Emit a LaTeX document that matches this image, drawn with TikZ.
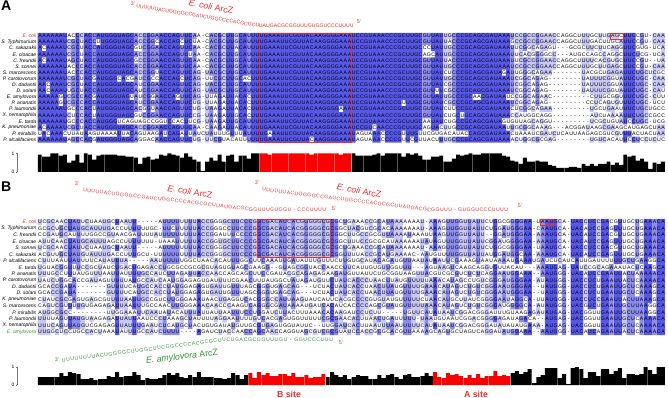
\documentclass[tikz,border=0pt]{standalone}
\usepackage{fontspec}
\setmainfont{Liberation Sans}
\usetikzlibrary{decorations.text}
\definecolor{pidhi}{RGB}{88,88,232}
\definecolor{pidmid}{RGB}{140,140,238}
\definecolor{pidlo}{RGB}{200,200,246}
\definecolor{arcred}{RGB}{228,48,48}
\definecolor{arcgreen}{RGB}{50,150,50}
\definecolor{barred}{RGB}{250,0,0}
\definecolor{axgray}{RGB}{120,120,120}

\tikzset{
  seqrow/.style={anchor=west, inner sep=0pt, font=\fontsize{4.4}{4.4}\selectfont},
  spname/.style={anchor=east, inner sep=0pt, font=\fontsize{4.3}{4.3}\selectfont\itshape},
  arcend/.style={inner sep=0pt, font=\fontsize{4.6}{4.6}\selectfont, text=arcred},
  arclabel/.style={inner sep=0pt, font=\fontsize{7.5}{7.5}\selectfont, text=arcred},
  sitelabel/.style={inner sep=0pt, font=\fontsize{7.5}{7.5}\selectfont\bfseries, text=arcred},
  panel/.style={inner sep=0pt, anchor=north west, font=\fontsize{12}{12}\selectfont\bfseries},
  axlabel/.style={inner sep=0pt, anchor=east, font=\fontsize{4.2}{4.2}\selectfont},
  axis/.style={axgray, line width=0.3pt},
  hitbox/.style={draw=arcred, line width=0.5pt},
}
\newcommand\arcfont{\fontsize{4.4}{4.4}\selectfont\color{arcred}}
\newcommand\amyfont{\fontsize{4.4}{4.4}\selectfont\color{arcgreen}}
\newdimen\alncellw
\newcommand\alnbox[1]{\hbox to \alncellw{\hss\MakeUppercase{#1}\hss}}
\newcommand\alnpath[2]{\fill[#1] #2;}
\newcommand\alnline[3]{\node[seqrow] at (#1,#2) {#3};}

\ExplSyntaxOn
\seq_new:N \g_aln_rows_seq
\seq_new:N \l_aln_cons_seq
\seq_new:N \l_aln_shade_seq
\tl_new:N \l_aln_row_tl
\tl_new:N \l_aln_ch_tl
\tl_new:N \l_aln_cons_tl
\tl_new:N \l_aln_shade_tl
\tl_new:N \l_aln_bar_tl
\tl_new:N \l_aln_run_tl
\tl_new:N \l_aln_line_tl
\tl_new:N \l_aln_text_tl
\tl_new:N \l_aln_path_black_tl
\tl_new:N \l_aln_path_barred_tl
\tl_new:N \l_aln_path_pidhi_tl
\tl_new:N \l_aln_path_pidmid_tl
\tl_new:N \l_aln_path_pidlo_tl
\int_new:N \l_aln_rows_int
\int_new:N \l_aln_cols_int
\int_new:N \l_aln_r_int
\int_new:N \l_aln_max_int
\int_new:N \l_aln_runstart_int
\int_new:N \l_aln_A_int
\int_new:N \l_aln_C_int
\int_new:N \l_aln_G_int
\int_new:N \l_aln_U_int
\int_new:N \l_aln_loa_int
\int_new:N \l_aln_hia_int
\int_new:N \l_aln_lob_int
\int_new:N \l_aln_hib_int
\fp_new:N \l_aln_frac_fp
\fp_new:N \l_aln_yc_fp
\fp_new:N \l_aln_tophi_fp
\fp_new:N \l_aln_topmid_fp
\fp_new:N \l_aln_toplo_fp
\cs_new_protected:Npn \aln_try:n #1
  {
    \int_compare:nNnT { \int_use:c { l_aln_#1_int } } > { \l_aln_max_int }
      {
        \tl_set:Nn \l_aln_cons_tl {#1}
        \int_set_eq:Nc \l_aln_max_int { l_aln_#1_int }
      }
  }
\cs_new_protected:Npn \aln_close_run:nnnn #1#2#3#4
  {
    \str_if_eq:VnF \l_aln_run_tl { none }
      {
        \tl_put_right:cx { l_aln_path_ \l_aln_run_tl _tl }
          {
            ( \fp_eval:n { #1 + (\int_use:N \l_aln_runstart_int - 1) * #2 } ,
              \fp_eval:n { \l_aln_yc_fp - #3 / 2 } ) ~ rectangle ~
            ( \fp_eval:n { #1 + (#4) * #2 } , \fp_eval:n { \l_aln_yc_fp + #3 / 2 } ) ~
          }
      }
  }
\cs_new_protected:Npn \aln_fill:n #1
  {
    \tl_if_empty:cF { l_aln_path_#1_tl }
      { \use:e { \exp_not:N \alnpath {#1} { \exp_not:v { l_aln_path_#1_tl } } } }
  }
\NewDocumentCommand \alnclear { } { \seq_gclear:N \g_aln_rows_seq }
\NewDocumentCommand \alnrow { m }
  {
    \tl_set:Nn \l_aln_row_tl {#1}
    \tl_remove_all:Nn \l_aln_row_tl { ~ }
    \seq_gput_right:NV \g_aln_rows_seq \l_aln_row_tl
  }
\NewDocumentCommand \alnred { m m m m }
  {
    \int_set:Nn \l_aln_loa_int {#1}
    \int_set:Nn \l_aln_hia_int {#2}
    \int_set:Nn \l_aln_lob_int {#3}
    \int_set:Nn \l_aln_hib_int {#4}
  }
\NewDocumentCommand \alnlevels { m m m }
  {
    \fp_set:Nn \l_aln_tophi_fp {#1}
    \fp_set:Nn \l_aln_topmid_fp {#2}
    \fp_set:Nn \l_aln_toplo_fp {#3}
  }
\NewDocumentCommand \alndraw { m m m m m m }
  {
    \int_set:Nn \l_aln_rows_int { \seq_count:N \g_aln_rows_seq }
    \tl_set:Nx \l_aln_row_tl { \seq_item:Nn \g_aln_rows_seq { 1 } }
    \int_set:Nn \l_aln_cols_int { \tl_count:N \l_aln_row_tl }
    \seq_clear:N \l_aln_cons_seq
    \seq_clear:N \l_aln_shade_seq
    \tl_clear:N \l_aln_path_black_tl
    \tl_clear:N \l_aln_path_barred_tl
    \tl_clear:N \l_aln_path_pidhi_tl
    \tl_clear:N \l_aln_path_pidmid_tl
    \tl_clear:N \l_aln_path_pidlo_tl
    \tl_clear:N \l_aln_text_tl
    \dim_set:Nn \alncellw { \fp_eval:n { #3 * 0.853583 } pt }
    \int_step_inline:nn { \l_aln_cols_int }
      {
        \int_zero:N \l_aln_A_int
        \int_zero:N \l_aln_C_int
        \int_zero:N \l_aln_G_int
        \int_zero:N \l_aln_U_int
        \seq_map_inline:Nn \g_aln_rows_seq
          {
            \tl_set:Nx \l_aln_ch_tl { \tl_item:nn {####1} {##1} }
            \str_if_eq:VnT \l_aln_ch_tl { A } { \int_incr:N \l_aln_A_int }
            \str_if_eq:VnT \l_aln_ch_tl { C } { \int_incr:N \l_aln_C_int }
            \str_if_eq:VnT \l_aln_ch_tl { G } { \int_incr:N \l_aln_G_int }
            \str_if_eq:VnT \l_aln_ch_tl { U } { \int_incr:N \l_aln_U_int }
          }
        \tl_set:Nn \l_aln_cons_tl { A }
        \int_set_eq:NN \l_aln_max_int \l_aln_A_int
        \aln_try:n { C }
        \aln_try:n { G }
        \aln_try:n { U }
        \fp_set:Nn \l_aln_frac_fp
          { \int_use:N \l_aln_max_int / \int_use:N \l_aln_rows_int }
        \fp_compare:nNnTF { \l_aln_frac_fp } > { \l_aln_tophi_fp }
          { \tl_set:Nn \l_aln_shade_tl { pidhi } }
          {
            \fp_compare:nNnTF { \l_aln_frac_fp } > { \l_aln_topmid_fp }
              { \tl_set:Nn \l_aln_shade_tl { pidmid } }
              {
                \fp_compare:nNnTF { \l_aln_frac_fp } > { \l_aln_toplo_fp }
                  { \tl_set:Nn \l_aln_shade_tl { pidlo } }
                  { \tl_set:Nn \l_aln_shade_tl { none } }
              }
          }
        \seq_put_right:NV \l_aln_cons_seq \l_aln_cons_tl
        \seq_put_right:NV \l_aln_shade_seq \l_aln_shade_tl
        \tl_set:Nn \l_aln_bar_tl { black }
        \bool_lazy_or:nnT
          { \int_compare_p:n { \l_aln_loa_int <= ##1 <= \l_aln_hia_int } }
          { \int_compare_p:n { \l_aln_lob_int <= ##1 <= \l_aln_hib_int } }
          { \tl_set:Nn \l_aln_bar_tl { barred } }
        \int_compare:nNnT { \l_aln_max_int } > { 0 }
          {
            \tl_put_right:cx { l_aln_path_ \l_aln_bar_tl _tl }
              {
                ( \fp_eval:n { #1 + (##1 - 1) * #3 + 0.15 } , #5 ) ~ rectangle ~
                ( \fp_eval:n { #1 + ##1 * #3 - 0.15 } ,
                  \fp_eval:n { #5 - \l_aln_frac_fp * #6 } ) ~
              }
          }
      }
    \int_zero:N \l_aln_r_int
    \seq_map_inline:Nn \g_aln_rows_seq
      {
        \fp_set:Nn \l_aln_yc_fp { #2 + \int_use:N \l_aln_r_int * #4 }
        \tl_clear:N \l_aln_line_tl
        \tl_set:Nn \l_aln_run_tl { none }
        \int_set:Nn \l_aln_runstart_int { 1 }
        \int_step_inline:nn { \l_aln_cols_int }
          {
            \tl_set:Nx \l_aln_ch_tl { \tl_item:nn {##1} {####1} }
            \tl_set:Nx \l_aln_cons_tl { \seq_item:Nn \l_aln_cons_seq {####1} }
            \tl_set:Nx \l_aln_shade_tl { \seq_item:Nn \l_aln_shade_seq {####1} }
            \str_if_eq:VVF \l_aln_ch_tl \l_aln_cons_tl
              { \tl_set:Nn \l_aln_shade_tl { none } }
            \str_if_eq:VVF \l_aln_shade_tl \l_aln_run_tl
              {
                \aln_close_run:nnnn {#1} {#3} {#4} { ####1 - 1 }
                \tl_set_eq:NN \l_aln_run_tl \l_aln_shade_tl
                \int_set:Nn \l_aln_runstart_int {####1}
              }
            \tl_put_right:Nx \l_aln_line_tl { \exp_not:N \alnbox { \l_aln_ch_tl } }
          }
        \aln_close_run:nnnn {#1} {#3} {#4} { \int_use:N \l_aln_cols_int }
        \tl_put_right:Nx \l_aln_text_tl
          {
            \exp_not:N \alnline { #1 } { \fp_eval:n { \l_aln_yc_fp } }
              { \exp_not:V \l_aln_line_tl }
          }
        \int_incr:N \l_aln_r_int
      }
    \aln_fill:n { black }
    \aln_fill:n { barred }
    \aln_fill:n { pidhi }
    \aln_fill:n { pidmid }
    \aln_fill:n { pidlo }
    \tl_use:N \l_aln_text_tl
  }
\ExplSyntaxOff

\begin{document}
\begin{tikzpicture}[x=0.03cm, y=-0.03cm]
\useasboundingbox (0,0) rectangle (668,398);
\fill[white] (0,0) rectangle (668,398);

\node[panel] (panA) at (1,1) {A};
\alnclear
\alnrow{AAAAAAUaCC CACCAUGGGU AGCACCGGAA CCAGUUCAA- CACGCUUGCA UUU UGAAAUUCGU UACAAGGGGA AA UCCGUAAACC CGCUUGCGUU AUUGCCCGCA GCGAUAAAUC CGCCGGAA CCAGGCUUUG CUUGAGCUUC CGU-CAA}
\alnrow{AAAAAAUCGC UACCuUGGGU AGCACCGGCA CCAGcUCUA- CACGCUUGCA UUU UGAAAUUCGU UACAAGGGGA AA UCCGUAAACC CGCUUGCGUU AUUACCCGCA GCGAUAAAGC CGCCGGAA CCAGGCUUUG ACUUGCAUUC CGU-CAA}
\alnrow{AcAAAAUCGC UACCAUGGGU AGCgUCGGAA CCAGUUCAA- CACGCUUaCA UUU UGAAAUUCGU UACAAGGGGA AA UCCGUAAACC CGCUUGCCCU AUUGCCCGCA GCGAUAAAUU CGGCAGAG U---GCGCUU CUUCAGGUUC GUG-UCA}
\alnrow{AAAAAAUCGC UACCAUGGGU AGCACCGGAA CCAGUUUAA- CACGCUUGCA UUU UGAAAUUCGU UACAAGGGGA AA UCCGUAAACC CGCUUGCAGC AUUGCCCGCA GCGAUAAAUU CACGGGGC C---AUGCCA GCCAGGCUUC UCG-UCA}
\alnrow{AcAAAAUaGC UACCAUGGGU AGCgCCGGAA CCAGUUCAA- CACGCUUGCA UUU UGAAAUUCGU UACAAGGGGA AA UCCGUAAACC CGCUUGCGUU AUUACCCGCA GCGAUAAAUU CGCCGGAA CCAGGCUUUU CACGUGCUUC CGU--UA}
\alnrow{AAAAAAUaCC CACCAUGGGU AGCACCGGAA CCAGUUCAA- CACGCUUGCA UUU UGAAAUUCGU UACAAGGGGA AA UCCGUAAACC CGCUUGCGUU AUUGCCCGCA GCGAUAAAUC CGCCGGAA CCAGGCUUUG CUUGAGCUUC CGU-CAA}
\alnrow{AAAAAAUaCC CACCAUGGGU AGCACCGGUA CCAGUUCAG- UACGCUUGCA UUU UGAAAUUCGU UACAAGGGGA AA UCCGUAAACC CGCUUGCGUU AUCUCCCGCA GCGAUAGAUU GGGCAGAA -------UAC GCUGAGAUUC UGCUCGC}
\alnrow{AAAAAAUCGC UACgAUGGGc AcGAUCGcCA CCAGcUCAG- uuCGCUUGCa cUU UGAAAUUCGU UACAAGGGGA AA UCCGUAAACC CGCUUGCGUU AUUGCCCGCA GCGAUAAAUC GGCAGAG- -------UAU UUCGGUAUUC UGC-CAA}
\alnrow{AAcAAAUCGC UACCAUGGGU AGCAUCGGAA CCAGUUCAG- UACGCUUGCA UUU UGAAAUUCGU UACAAGGGGA AA UCCGUAAACC CGCUUGCGUU AUCGCCCGCA GCGAUAAAUC GGCAGAG- -------UAU UUCGGUAUUC UGC-CAA}
\alnrow{AAcAAAUUGC UACCAUGGGU AGCAUCGGAA CCAGUUCAG- UACGCUUGCA UUU UGAAAUUCGU UACAAGGGGA AA UCCGUAAACC CGCUUGCGUU UUCGCCCGCA GCGAUAAAUC GGCAGAG- -------UAU UUCGGUAUUC UGC-CAU}
\alnrow{AAAAAgUCGC CACgAUGGGU AGuAUCGgAA CCAgUUCAG- UUAGAUUaCA CUU UGAAAUUCGU UACAAGGGGA AA UCCGUAAACC CGCUUGCGUU AUUGCCCGCa ACGAUAAUCC GGCAGAAC ---------C UUGCGGUUUC UGC-CUU}
\alnrow{AAAAAgUCGC CACCAUGGGU AGCAUCGGAA CCAGUUCUG- UUAGAUUACA CUU UGAAAUUCGU UACAAGGGGA AA UCCGUAAACC CGUUUGCGUU AUCGCCCGCA GCGAUAAAUC GGCAGAG- --------CC UCAGUGUUUC UGC-UCU}
\alnrow{AAAAAAUgCC CACuAUGGGU AGCACgGUAA CCAGUUCUG- UAAGAUUACA CUU UGAAAUUCGU UACAAGGGGa AA UCCGUAAACC CGCUUGCGUU AUCUUCCGCA GCGAUAAACU CGGCAGAA ---------U GCUGAAUUUC UGCUGCC}
\alnrow{AAAAAAUCuC CACuAUGGGU AGCgUCGGAA CCAGUUCCG- UAAGAUUgCA CUU UGAAAUUCGU UACAAGGGGA AA UCCGUAAACC CGCUUGCGUU AUCUGCUGCA GCGAUAAACC AUGGCAGG ---------A UCUAAAAUUC UGCCGCC}
\alnrow{AAAAAAUgCC CACCAUGGGu CAGUAGCCGG UCCACUUCG- UAAGAUUGCA UUU UGAAAUUCGU UACAAGGGGA AA UCCGUAAACC CGCUUGCAAU AUCUGCCGCA GCGAUAGUGU UAGCAGGU ---------U CGCUGUAUCC UGC-UCG}
\alnrow{AcAAAAUCGC UACCAUGGGU AGCACCGGAA CCAGUUCAA- CAAGAUUACA UUU UGAAAUUCGU UACAAGGGGA AA UCCGUcAACC CGCUUGCAGU ACUUGCCGCA GCGAUAAUUG CGGCAAAG ---ACGGAUA AGCGAAGCAU GAGCUAA}
\alnrow{UACAAACUUA UAAGUAAAAU UACAGUAAGA UCAGAUUAUC UAUUUGUUUA UUU UGaAAUUCGU UACAAGGGGA AA UAGUAAACCC CGUUUGUUCG UGACAUACCA GCGAUAAACU AAAUCGAU CUCAUUAAGA GCGUCGUUUA CUACUAA}
\alnrow{AAAAAAUaGC CACgAUGGGU AGCAgGACAA CCAGUUCUG- UUCGUACAUU UUU UGAAAUUCGU UAcAAGGGGA AA UAGUAAACCC CGUUCGUUAC UUUGCCCGCA GCGAUAAAAC UGGCGCGA G--------U GUCACAUUCC UCCUCUC}
\alnred{54}{75}{0}{-1}
\alnlevels{0.79}{0.59}{0.32}
\alndraw{37.7}{36}{4.182}{6.1}{172}{18.5}
\foreach \nm [count=\i from 0] in {\textcolor{arcred}{E. coli}, S. Typhimurium, C. sakazakii, E. cloacae, C. freundii, S. sonnei, S. marcescens, P. carotovorum, D. dadantii, D. solani, E. amylovora, P. ananatis, P. laumondii, X. nematophila, E. tarda, K. pneumoniae, P. mirabilis, P. alcalifaciens}
  \node[spname] (nmA\i) at (36.5,36+6.1*\i) {\nm};
\draw[hitbox] (259.3,33) rectangle (351.4,142.7);
\draw[hitbox] (610.6,33) rectangle (623.1,39.1);

\node[arcend] (a3A) at (133,4) {3'};
\path[decorate, decoration={text along path, text align={fit to path}, text={|\arcfont|UUUUUUACUGGGGCCGAUCUGGCCCCACGCGCUUAUGACGCGGUUUGUGGUCCCUUUU}}] (136,7.5) -- (259,27.5) -- (352,27.5);
\node[arcend] (a5A) at (359,22) {5'};
\node[arclabel, rotate=-11] (lblA) at (211,6.5) {\textit{E. coli} ArcZ};

\draw[axis] (17,153.5) -- (17,172);
\draw[axis] (15.5,153.5) -- (17,153.5);
\draw[axis] (15.5,172) -- (17,172);
\node[axlabel] (oneA) at (14.5,153.5) {1};
\node[axlabel] (zeroA) at (14.5,172) {0};

\node[panel] (panB) at (1,182) {B};
\alnclear
\alnrow{UCGCAACUAU UCUAAUGCUA AUU-----AU UUUUUUUACC GGGGCUUCCC G GCGACAUCAC GGGGGCG CGCUGAAACC GCAUAAAAAA AU-AAAGUUG GUUAUUCUGG CGGGGAA-UA AUGCA-UACC UCCGACGUUG CUGAAACA}
\alnrow{GCGCUGCUAU GCAUUUGACC UUUUUUGC-U UCUUUUUACC GGGCCUUCCC G GCGACAUCAC GGGGGCG CGGCUACGUC GCACAAAAAA AU-AAAGUUG GUUAUUCUGG AUGGGAA-CA AUGCA-UACA UCCGAGUUUG CUGAAACA}
\alnrow{CCGAUGCAUU UUGGCCGUAA CGAUUUUAUU UUUUUUUACC GGAUUUCCCC G GCGACAUCAC GGGGGCG CGGCUUGCCG CGUUAAAAUA AAUUAAGUUG GUUAUU--GG AUGGGAA-AA AUGCA-UACA UCCGACGUUG CUGAAACA}
\alnrow{AUUCAACUAU GCAUUUAGCC UUUUUUU-UA AAUUUUUACC GGUGCUUCCC G GCGACAUCAC GGGGGCG CGGCUUUCCG CGCAUAAAAA AUAUAGUUUG GUUAUUCGGA UGGGGAA-AA AUGCA-UACA UCCGAGUUUG CUGAAACA}
\alnrow{UCGCAACUAU UCUAAUGCUA AUU-----AU UUUUUUUACC GGGGCUUCCC G GCGACAUCAC GGGGGCG CGCUGAAACC GCAUAAAAAA AU-AAAGUUG GUUAUUCUGG CGGGGAA-UA AUGCA-UACC UCCGACGUUG CUGAAACA}
\alnrow{ACGUUGCUAU GUAUUUGACC UUUGCU-UUU UUUUUUUACC GGGGCUUCCC G GCGACAUCAC GGGGGCG CGGUUUUACC GCAUGAAAAC -AAUGUUUUG GUUAUUAUGG AUGGCAA-AA AUGCA-UACA UCCGAGUUUG CUGAAACA}
\alnrow{CUUUAAUUAU UUUCAUAUUU A-----AAUU UUUUGGCUAA CACAUUUGGC U UCAAAUUGAU AUUUGUU UCUUGUGCAU ACAGAUGUUA AUAUAAUUCG AAAGUAAUAA AAUGAAAUGA UCUCAUCAUU GAUUUUUUGC UGAAGGCA}
\alnrow{UGUACGGUUU CCGCUAUCUG ACUGAGACCU GCGCCGCGCG UAGUGUAGCG A AGG--GUAGC GGUACCA ACCUUCAUUG UGUUGGUUU- --AGUAAGUC AAGCAGGUGU UACAU---AA AUGAG-UAUC CGCAGAAAUA CUCAAGCA}
\alnrow{UUUGCCUUUA UGUUUAAUUA UUUUGCCAUC UUAGAUUACC AACCAGCAGC U UCCGAUACGC AGAGAGA AGAUGUUAUU CUGCGGUAAG UUACGUCGCG UCUCUCAGGA AUGGAAA--A AUGGG-UACA UCCGAAUUAC UAAAAACA}
\alnrow{UAUCUGGCAC CGAUAGUUUU UAUGCCAUCA AUGGAGAGUG AUUUUCGAAC U UUAUGGCUAU AGAUGUU CUAUCACCCU AACUUAUGUU UUUAAACAUA GCCUGUCGGG AUGGGAA-AU AUGGG-UACC UCUGAAUUAC UCAAAACA}
\alnrow{GCACCGAUA- ------GUUU UCAUGCCACC UAUGGAGAGU GAUUGUUUAG C GGGUGAGCAG ---UCUA CUAUCACCUA ACUUAUGUUU UGAAACAUAG UCUGUCGGGA AUGGGAA--U AUGGG-UACC UCUGAAUUGC UCAAAGCA}
\alnrow{GCACCGAUA- ------GUUU UCAUGCCACC UAUGGAGAGU GAUUGUUUAG C GGGUGAGCAG ---UCUA CUAUCACCUA ACUUAUGUUU UGAAACAUAG UCUGUCGGGA AUGGGAA--U AUGGG-UACC UCUGAAUUGC UCAAAGCA}
\alnrow{CUAUCGCGAG UGAGCGUUUU AAUUGCCGUC UUGGGAAAUA ACUGAGGUCA C GGGCCAUUAA GUAUCAU UCACGCCCCG UGUAUGUUUU UCUAACAUGC UUAUCGGGGA AUAGGCA-UU AUGGG-UACC UCCGAAUUAC UUAAAGCA}
\alnrow{CAGUCGUUUU GUGAGAGAUU AAUUUGCCAA CUUGGGAAAC AACCCAAGUC A GGGCGAUAAA AUGAUCA CAUCACCCCA GCGUAUGUUU UUAAACAUAG UCUGUCGGGA UGGGGCA-AU AUGGG-UACG UCUGAAUUGC UUAAGGCA}
\alnrow{AUGGCGCC-- ------UUGG AAAUUCAAUA UACAUUUAUU AUUAAUUUCC U GGAUCUUACU UUAAACA CAAGAUCCUC UU-----UGU UCAUAUAAUC GGACGGGAUU UGUAAGAGAU AUGAG-UACG GUUGAAUUGC UUAAGGCA}
\alnrow{UUUUAGUUAU GUAAGAGAUU AUUAAUCCCU AAAGCUAUUU UAGGAAUUUU G UCACGAGUGG UUUUUCG CGAACACUUA ACUGAUUUUU -UAAUGUAAU CGGACGGGGA GAUAGACA-- AUGAG-UACG GUUGAAUUGC UCAAAACA}
\alnrow{UUUCAGUUAU GUCGAGAGUU AUUUGAAUCU CAUGCUACUG UGAUAUGUUG C GUGAGUGGUA UUC--UU GGAUCACUUA AUUUAAUUUU UCAUAUAAUC GGACGGGAUA UAUAUGAAA- AUGAG-UACG GUUGAAUUGC UCAAAACA}
\alnrow{UUGGCUCCUG CCACUAAAUA UUUGCCAUCU UUU----AGA UCUACCAACC A GCAACCAGGU AGCGUCG CGUAUCCACC GCGCACGUUA AAAGCAGUGC UAGUCAGGAU AUGGAAA--A AUGGG-UACA UCAGAAUUAC UCAAAACA}
\alnred{50}{67}{93}{110}
\alnlevels{0.70}{0.50}{0.25}
\alndraw{37.7}{222}{4.297}{6.47}{385}{18}
\foreach \nm [count=\i from 0] in {\textcolor{arcred}{E. coli}, S. Typhimurium, C. freundii, E. cloacae, S. sonnei, C. sakazakii, P. alcalifaciens, E. tarda, P. ananatis, P. carotovorum, D. dadantii, D. solani, K. pneumoniae, S. marcescens, P. mirabilis, P. laumondii, X. nematophila, \textcolor{arcgreen}{E. amylovora}}
  \node[spname] (nmB\i) at (36.5,222+6.47*\i) {\nm};
\draw[hitbox] (256.9,218.8) rectangle (329.9,257.6);
\draw[hitbox] (540.4,218.8) rectangle (553.3,225.2);

\node[arcend] (a3B) at (77,184) {3'};
\path[decorate, decoration={text along path, text align={fit to path}, text={|\arcfont|UUUUUACUGGGGCCGAUCUGGCCCCACGCGCUUAUGACGCGGUUUGUGGU - CCCUUUU}}] (83,192) -- (250,211) -- (326,211);
\node[arcend] (a5B) at (334,209) {5'};
\node[arclabel, rotate=-9] (lblB) at (190,191.5) {\textit{E. coli} ArcZ};

\node[arcend] (a3C) at (257,183) {3'};
\path[decorate, decoration={text along path, text align={fit to path}, text={|\arcfont|UUUUUUACUGGGGCCGAUCUGGCCCCACGCGCUUAUGACGCGGUUU - GUGGUCCCUUUU}}] (262,191) -- (432,212) -- (508,212);
\node[arcend] (a5C) at (520,206) {5'};
\node[arclabel, rotate=-11] (lblC) at (359,190.5) {\textit{E. coli} ArcZ};

\node[arcend, text=arcgreen] (a3D) at (57,360) {3'};
\path[decorate, decoration={text along path, text align={fit to path}, text={|\amyfont|UUUUUUUUACUGGGGCUUGGCUUCGGCCCCACGCGCUUCUGACGCGGUUUGU - GGUCCCUUU}}] (62,362) -- (228,341) -- (333,341);
\node[arcend, text=arcgreen] (a5D) at (341,343) {5'};
\node[arclabel, text=arcgreen, rotate=7] (lblD) at (182,357) {\textit{E. amylovora} ArcZ};

\draw[axis] (17,367) -- (17,385);
\draw[axis] (15.5,367) -- (17,367);
\draw[axis] (15.5,385) -- (17,385);
\node[axlabel] (oneB) at (14.5,367) {1};
\node[axlabel] (zeroB) at (14.5,385) {0};
\node[sitelabel] (bsite) at (289,394) {B site};
\node[sitelabel] (asite) at (476,394) {A site};
\end{tikzpicture}
\end{document}
